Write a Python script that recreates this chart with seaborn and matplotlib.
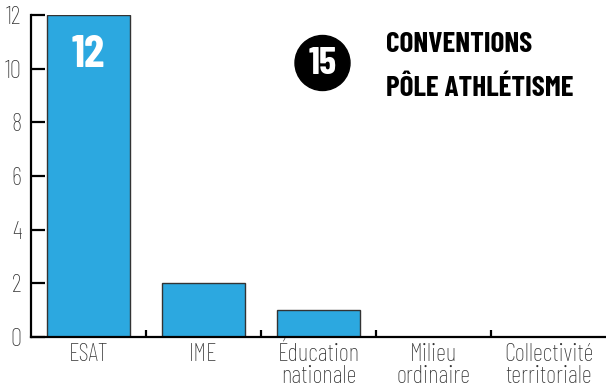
import matplotlib
matplotlib.use("Agg")
import matplotlib.pyplot as plt
import seaborn as sns
import pandas as pd
from matplotlib.patches import Circle
from matplotlib.ticker import FixedLocator

categories = ["ESAT", "IME", "Éducation\nnationale", "Milieu\nordinaire", "Collectivité\nterritoriale"]
values = [12, 2, 1, 0, 0]
y_ticks = [0, 2, 4, 6, 8, 10, 12]
total = 15
title_lines = ["CONVENTIONS", "PÔLE ATHLÉTISME"]

sns.set_style("white")
plt.rcParams["font.family"] = ["Barlow Condensed", "DejaVu Sans"]

df = pd.DataFrame({"cat": categories, "val": values})

fig = plt.figure(figsize=(6.06, 3.91), dpi=100)
ax = fig.add_axes([31 / 606, 54 / 391, 575 / 606, 322 / 391])

sns.barplot(data=df, x="cat", y="val", color="#2ca8e0", saturation=1,
            width=0.72, edgecolor="#333333", linewidth=1.0, ax=ax)

ax.set_xlim(-0.5, len(categories) - 0.5)
ax.set_ylim(0, 12)
ax.set_yticks(y_ticks)
ax.set_xlabel("")
ax.set_ylabel("")

for s in ["top", "right"]:
    ax.spines[s].set_visible(False)
for s in ["left", "bottom"]:
    ax.spines[s].set_color("black")
    ax.spines[s].set_linewidth(1.6)

ax.tick_params(axis="y", direction="in", length=10, width=1.6, color="black",
               labelsize=18, labelcolor="#333333", pad=7, left=True)
ax.tick_params(axis="x", which="major", length=0, labelsize=18,
               labelcolor="#333333", pad=4)
ax.xaxis.set_minor_locator(FixedLocator([i + 0.5 for i in range(len(categories) - 1)]))
ax.tick_params(axis="x", which="minor", direction="in", length=5, width=1.6,
               color="black", bottom=True)
for lab in ax.get_xticklabels() + ax.get_yticklabels():
    lab.set_fontweight("light")
for lab in ax.get_xticklabels():
    lab.set_linespacing(0.95)

# value label inside the tallest bar
ax.text(0, values[0] - 1.5, str(values[0]), color="white", fontsize=33,
        fontweight="bold", ha="center", va="center")

# headline badge with total
circ = Circle((322.5, 391 - 63), 27.5, transform=None, color="black", zorder=5)
fig.patches.append(circ)
fig.text(322.5 / 606, 1 - 64 / 391, str(total), color="white", fontsize=28,
         fontweight="bold", ha="center", va="center", zorder=6)
fig.text(386 / 606, 1 - 45 / 391, title_lines[0], color="black", fontsize=21,
         fontweight="bold", ha="left", va="center")
fig.text(386 / 606, 1 - 88 / 391, title_lines[1], color="black", fontsize=21,
         fontweight="bold", ha="left", va="center")

fig.savefig("out.png", dpi=100)
